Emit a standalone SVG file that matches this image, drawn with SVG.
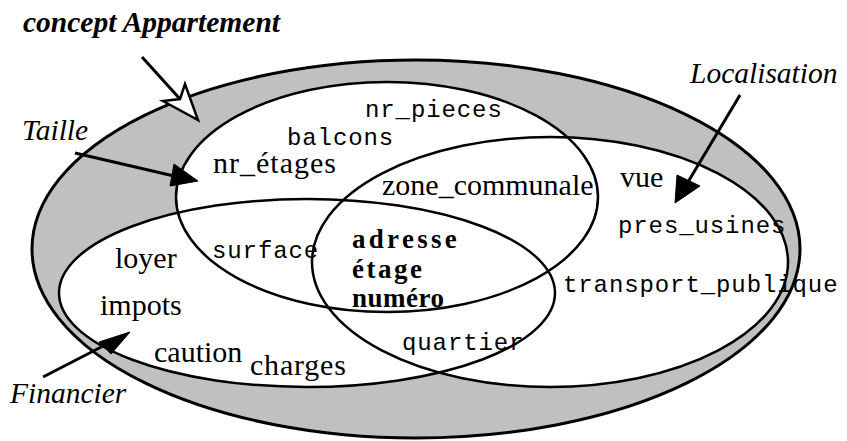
<svg xmlns="http://www.w3.org/2000/svg" width="847" height="441" viewBox="0 0 847 441">
<style>
.ser{font-family:"Liberation Serif","DejaVu Serif","Times New Roman",serif;font-size:30px;fill:#000}
.it{font-family:"Liberation Serif","DejaVu Serif",serif;font-style:italic;font-size:29.5px}
.bi{font-family:"Liberation Serif","DejaVu Serif",serif;font-style:italic;font-weight:bold;font-size:29.5px}
.mono{font-family:"Liberation Mono","Courier New",monospace;font-size:24px;letter-spacing:0.9px;fill:#000}
.bold{font-family:"Liberation Serif","Times New Roman",serif;font-weight:bold;font-size:27px;fill:#000}
.outline{fill:none;stroke:#000;stroke-width:2.5}
.wfill{fill:#fff;stroke:none}
.arrow{stroke:#000;stroke-width:3;fill:none}
.head{fill:#000;stroke:#000;stroke-width:1}
</style>
<rect width="847" height="441" fill="#fff"/>
<g id="concept">
<ellipse cx="416" cy="249" rx="384" ry="189" fill="#c0c0c0" stroke="#000" stroke-width="3"/>
</g>
<g id="fills">
<ellipse class="wfill" cx="387" cy="197" rx="211" ry="115"/>
<ellipse class="wfill" cx="550" cy="262" rx="238" ry="125"/>
<ellipse class="wfill" cx="307" cy="293" rx="248" ry="94"/>
</g>
<g id="taille">
<ellipse class="outline" cx="387" cy="197" rx="211" ry="115"/>
</g>
<g id="localisation">
<ellipse class="outline" cx="550" cy="262" rx="238" ry="125"/>
</g>
<g id="financier">
<ellipse class="outline" cx="307" cy="293" rx="248" ry="94"/>
</g>
<g id="connectors">
<line class="arrow" x1="142" y1="57" x2="180" y2="99"/>
<polygon points="163,101 198,120 185,84 180,99" fill="#fff" stroke="#000" stroke-width="2.5" stroke-linejoin="miter"/>
<line class="arrow" x1="75" y1="153" x2="174" y2="176"/>
<polygon class="head" points="198,181 170,186 174,164"/>
<line class="arrow" x1="740" y1="95" x2="688" y2="182"/>
<polygon class="head" points="675,203 677,175 700,186"/>
<line class="arrow" x1="43" y1="377" x2="107" y2="344"/>
<polygon class="head" points="130,332 99,342 111,354"/>
</g>
<g id="labels">
<text class="bi" x="23" y="32">concept Appartement</text>
<text class="it" x="22" y="140">Taille</text>
<text class="it" x="690" y="83">Localisation</text>
<text class="it" x="10" y="403">Financier</text>
</g>
<g id="attributes">
<text class="mono" x="365" y="117">nr_pieces</text>
<text class="mono" x="287" y="145">balcons</text>
<text class="ser" x="213" y="173" letter-spacing="1">nr_étages</text>
<text class="ser" x="382" y="195">zone_communale</text>
<text class="ser" x="620" y="187">vue</text>
<text class="mono" x="618" y="233">pres_usines</text>
<text class="mono" x="212" y="258">surface</text>
<text class="bold" x="352" y="248" letter-spacing="3.3">adresse</text>
<text class="bold" x="352" y="278" letter-spacing="2.5">étage</text>
<text class="bold" x="352" y="307" letter-spacing="0.5">numéro</text>
<text class="mono" x="563" y="292">transport_publique</text>
<text class="ser" x="115" y="268">loyer</text>
<text class="ser" x="100" y="315">impots</text>
<text class="ser" x="154" y="362">caution</text>
<text class="ser" x="250" y="375" letter-spacing="0.8">charges</text>
<text class="mono" x="402" y="350">quartier</text>
</g>
</svg>
